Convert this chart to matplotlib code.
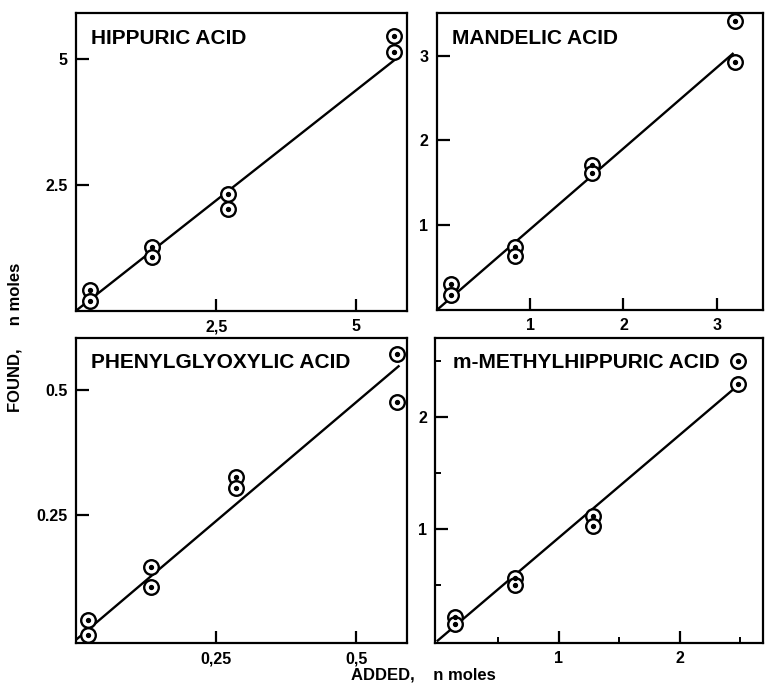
import numpy as np
import matplotlib
matplotlib.use('Agg')
import matplotlib.pyplot as plt

plt.rcParams['font.family'] = ['Liberation Sans', 'DejaVu Sans']
plt.rcParams['font.weight'] = 'bold'

# data: added vs found (n moles), duplicates per level
hip_x = [0.25, 0.25, 1.35, 1.35, 2.71, 2.71, 5.67, 5.67]
hip_y = [0.42, 0.20, 1.27, 1.07, 2.32, 2.02, 5.46, 5.14]
hip_line_x = [0, 5.67]
hip_line_y = [0, 4.98]

man_x = [0.15, 0.15, 0.84, 0.84, 1.66, 1.66, 3.19, 3.19]
man_y = [0.31, 0.18, 0.74, 0.64, 1.71, 1.61, 3.41, 2.92]
man_line_x = [0, 3.17]
man_line_y = [0, 3.02]

phg_x = [0.022, 0.022, 0.133, 0.133, 0.285, 0.285, 0.572, 0.572]
phg_y = [0.040, 0.010, 0.146, 0.106, 0.326, 0.304, 0.572, 0.476]
phg_line_x = [0, 0.575]
phg_line_y = [0, 0.548]

mmh_x = [0.14, 0.14, 0.64, 0.64, 1.28, 1.28, 2.48, 2.48]
mmh_y = [0.21, 0.15, 0.56, 0.50, 1.11, 1.02, 2.50, 2.29]
mmh_line_x = [0, 2.48]
mmh_line_y = [0, 2.28]

panels = [
    # title, x, y, line x, line y, xlim, ylim, xticks, xlabels, yticks, ylabels, minor x, minor y, rect, title pos
    ("HIPPURIC ACID", hip_x, hip_y, hip_line_x, hip_line_y, (0, 5.9), (0, 5.92),
     [2.5, 5], ["2,5", "5"], [2.5, 5], ["2.5", "5"], [], [],
     [0.0993, 0.549, 0.4327, 0.432], (0.045, 0.916)),
    ("MANDELIC ACID", man_x, man_y, man_line_x, man_line_y, (0, 3.5), (0, 3.5),
     [1, 2, 3], ["1", "2", "3"], [1, 2, 3], ["1", "2", "3"], [], [],
     [0.571, 0.550, 0.427, 0.431], (0.046, 0.916)),
    ("PHENYLGLYOXYLIC ACID", phg_x, phg_y, phg_line_x, phg_line_y, (0, 0.59), (-0.006, 0.604),
     [0.25, 0.5], ["0,25", "0,5"], [0.25, 0.5], ["0.25", "0.5"], [], [],
     [0.0993, 0.067, 0.4327, 0.442], (0.045, 0.92)),
    ("m-METHYLHIPPURIC ACID", mmh_x, mmh_y, mmh_line_x, mmh_line_y, (-0.02, 2.69), (-0.02, 2.7),
     [1, 2], ["1", "2"], [1, 2], ["1", "2"], [0.5, 1.5, 2.5], [0.5, 1.5, 2.5],
     [0.569, 0.067, 0.429, 0.442], (0.055, 0.92)),
]

fig = plt.figure(figsize=(7.65, 6.89), dpi=100)

for (title, x, y, lx, ly, xlim, ylim, xt, xtl, yt, ytl, mx, my, rect, tpos) in panels:
    ax = fig.add_axes(rect)
    ax.plot(lx, ly, color='black', lw=1.7, zorder=2)
    ax.plot(x, y, 'o', ms=10.5, mfc='white', mec='black', mew=1.7, zorder=3, clip_on=False)
    ax.plot(x, y, 'o', ms=2.8, color='black', zorder=4, clip_on=False)
    ax.set_xlim(*xlim)
    ax.set_ylim(*ylim)
    ax.set_xticks(xt)
    ax.set_xticklabels(xtl)
    ax.set_yticks(yt)
    ax.set_yticklabels(ytl)
    if mx:
        ax.set_xticks(mx, minor=True)
    if my:
        ax.set_yticks(my, minor=True)
    ax.tick_params(which='major', direction='in', length=9, width=1.6,
                   labelsize=11.5, pad=6)
    ax.tick_params(which='minor', direction='in', length=4, width=1.4)
    for s in ax.spines.values():
        s.set_linewidth(1.6)
    ax.text(tpos[0], tpos[1], title, transform=ax.transAxes, fontsize=15,
            fontweight='bold', va='center', ha='left')

fig.text(0.02, 0.511, "FOUND,     n moles", rotation=90, fontsize=12,
         fontweight='bold', ha='center', va='center')
fig.text(0.554, 0.02, "ADDED,    n moles", fontsize=12,
         fontweight='bold', ha='center', va='center')

plt.savefig('out.png', dpi=100)
